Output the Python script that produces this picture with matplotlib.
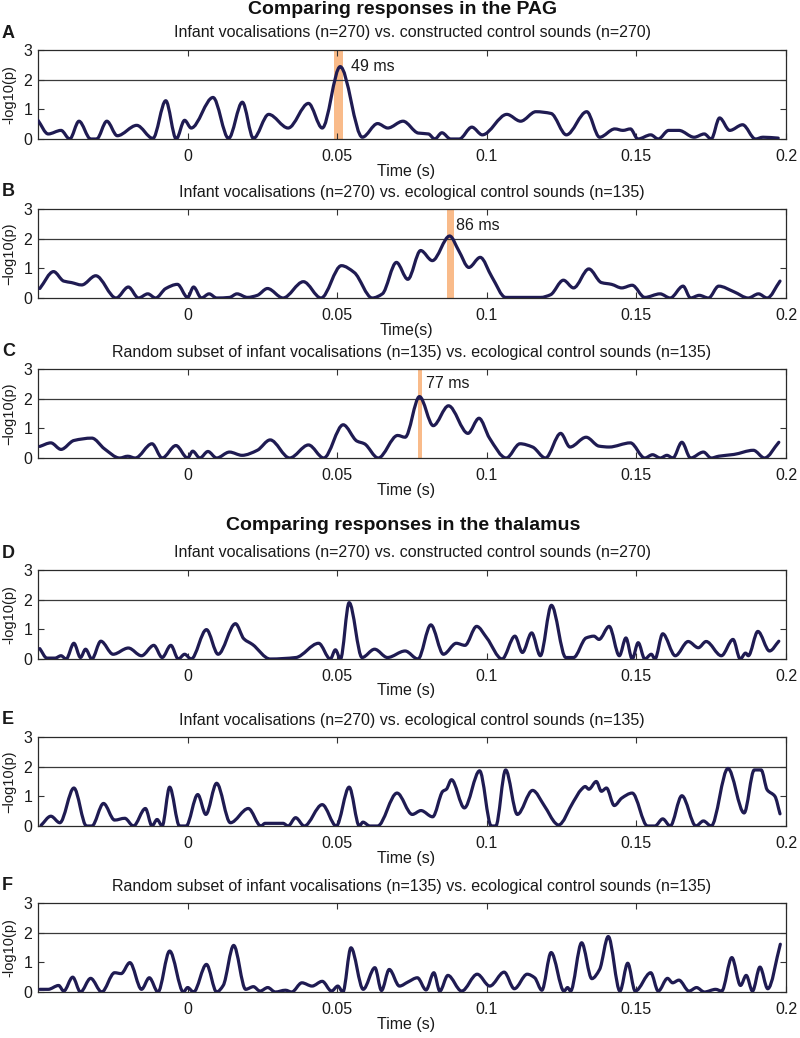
import matplotlib
matplotlib.use("Agg")
import matplotlib.pyplot as plt
from matplotlib.path import Path
from matplotlib.patches import PathPatch

plt.rcParams['font.family'] = ['Liberation Sans', 'DejaVu Sans']

# ---------------- data ----------------
xticks = [0, 0.05, 0.1, 0.15, 0.2]
xticklabels = ['0', '0.05', '0.1', '0.15', '0.2']
yticks = [0, 1, 2, 3]
threshold = 2

titles = ['Comparing responses in the PAG', 'Comparing responses in the thalamus']
letters = ['A', 'B', 'C', 'D', 'E', 'F']
subtitles = [
    'Infant vocalisations (n=270) vs. constructed control sounds (n=270)',
    'Infant vocalisations (n=270) vs. ecological control sounds (n=135)',
    'Random subset of infant vocalisations (n=135) vs. ecological control sounds (n=135)',
    'Infant vocalisations (n=270) vs. constructed control sounds (n=270)',
    'Infant vocalisations (n=270) vs. ecological control sounds (n=135)',
    'Random subset of infant vocalisations (n=135) vs. ecological control sounds (n=135)',
]
xlabels = ['Time (s)', 'Time(s)', 'Time (s)', 'Time (s)', 'Time (s)', 'Time (s)']
ylabels = ['-log10(p)', '\u2212log10(p)', '\u2212log10(p)', '-log10(p)', '\u2212log10(p)', '-log10(p)']

tA = [-0.0500, -0.0466, -0.0423, -0.0394, -0.0363, -0.0324, -0.0304, -0.0270, -0.0235, -0.0170,
      -0.0116, -0.0073, -0.0038, -0.0010, 0.0012, 0.0085, 0.0137, 0.0183, 0.0220, 0.0271,
      0.0336, 0.0404, 0.0450, 0.0510, 0.0584, 0.0635, 0.0669, 0.0720, 0.0771, 0.0805,
      0.0826, 0.0850, 0.0879, 0.0908, 0.0950, 0.0985, 0.1067, 0.1113, 0.1164, 0.1215,
      0.1266, 0.1334, 0.1377, 0.1428, 0.1455, 0.1480, 0.1505, 0.1548, 0.1573, 0.1608,
      0.1642, 0.1693, 0.1727, 0.1750, 0.1778, 0.1812, 0.1855, 0.1898, 0.1923, 0.1974]
pA = [0.63, 0.17, 0.29, 0.00, 0.60, 0.00, 0.00, 0.60, 0.11, 0.46,
      0.02, 1.29, 0.00, 0.63, 0.37, 1.40, 0.02, 1.24, 0.02, 0.83,
      0.37, 1.20, 0.37, 2.44, 0.06, 0.52, 0.37, 0.60, 0.20, 0.17,
      0.00, 0.21, 0.00, 0.00, 0.40, 0.14, 0.83, 0.60, 0.92, 0.86,
      0.14, 0.92, 0.06, 0.34, 0.29, 0.34, 0.00, 0.14, 0.00, 0.29,
      0.29, 0.06, 0.17, 0.00, 0.71, 0.29, 0.48, 0.00, 0.06, 0.03]

tB = [-0.0494, -0.0448, -0.0414, -0.0388, -0.0354, -0.0307, -0.0239, -0.0198, -0.0164, -0.0133,
      -0.0107, -0.0073, -0.0034, 0.0000, 0.0020, 0.0046, 0.0072, 0.0097, 0.0140, 0.0165,
      0.0200, 0.0233, 0.0267, 0.0319, 0.0387, 0.0446, 0.0514, 0.0557, 0.0617, 0.0651,
      0.0698, 0.0736, 0.0779, 0.0818, 0.0876, 0.0906, 0.0940, 0.0978, 0.1017, 0.1063,
      0.1110, 0.1180, 0.1213, 0.1256, 0.1290, 0.1341, 0.1383, 0.1417, 0.1451, 0.1486,
      0.1528, 0.1579, 0.1613, 0.1656, 0.1681, 0.1710, 0.1741, 0.1775, 0.1826, 0.1874,
      0.1908, 0.1937, 0.1980]
pB = [0.32, 0.89, 0.57, 0.52, 0.44, 0.75, 0.00, 0.37, 0.00, 0.14,
      0.00, 0.32, 0.46, 0.02, 0.37, 0.00, 0.14, 0.00, 0.02, 0.14,
      0.02, 0.09, 0.32, 0.00, 0.55, 0.00, 1.09, 0.86, 0.00, 0.14,
      1.20, 0.63, 1.60, 1.26, 2.09, 1.60, 1.03, 1.37, 0.71, 0.02,
      0.02, 0.02, 0.11, 0.60, 0.34, 0.98, 0.52, 0.46, 0.34, 0.43,
      0.02, 0.14, 0.00, 0.40, 0.00, 0.09, 0.00, 0.40, 0.21, 0.00,
      0.14, 0.00, 0.57]

tC = [-0.0494, -0.0457, -0.0423, -0.0380, -0.0320, -0.0278, -0.0227, -0.0200, -0.0175, -0.0119,
      -0.0085, -0.0039, 0.0000, 0.0017, 0.0041, 0.0068, 0.0097, 0.0140, 0.0182, 0.0233,
      0.0276, 0.0341, 0.0404, 0.0455, 0.0520, 0.0566, 0.0591, 0.0637, 0.0702, 0.0727,
      0.0775, 0.0821, 0.0872, 0.0937, 0.0974, 0.1009, 0.1065, 0.1111, 0.1153, 0.1196,
      0.1247, 0.1278, 0.1332, 0.1375, 0.1409, 0.1480, 0.1528, 0.1554, 0.1580, 0.1602,
      0.1622, 0.1652, 0.1681, 0.1724, 0.1750, 0.1775, 0.1826, 0.1891, 0.1928, 0.1976]
pC = [0.39, 0.51, 0.29, 0.59, 0.67, 0.31, 0.00, 0.06, 0.00, 0.48,
      0.00, 0.42, 0.00, 0.23, 0.00, 0.22, 0.00, 0.20, 0.09, 0.26,
      0.61, 0.00, 0.44, 0.00, 1.12, 0.57, 0.48, 0.00, 0.76, 0.70,
      2.07, 1.09, 1.76, 0.83, 1.34, 0.67, 0.00, 0.48, 0.37, 0.00,
      0.83, 0.37, 0.70, 0.40, 0.37, 0.51, 0.00, 0.11, 0.00, 0.09,
      0.00, 0.53, 0.00, 0.20, 0.00, 0.06, 0.12, 0.26, 0.00, 0.53]

tD = [-0.0494, -0.0470, -0.0443, -0.0423, -0.0406, -0.0380, -0.0358, -0.0341, -0.0320, -0.0290,
      -0.0249, -0.0198, -0.0154, -0.0113, -0.0085, -0.0056, -0.0031, -0.0010, 0.0012, 0.0063,
      0.0102, 0.0160, 0.0188, 0.0217, 0.0276, 0.0362, 0.0438, 0.0477, 0.0494, 0.0511,
      0.0540, 0.0583, 0.0625, 0.0668, 0.0727, 0.0770, 0.0813, 0.0855, 0.0898, 0.0927,
      0.0966, 0.1000, 0.1051, 0.1094, 0.1119, 0.1150, 0.1179, 0.1216, 0.1264, 0.1290,
      0.1332, 0.1358, 0.1375, 0.1409, 0.1443, 0.1465, 0.1486, 0.1506, 0.1528, 0.1550,
      0.1562, 0.1588, 0.1630, 0.1673, 0.1707, 0.1733, 0.1784, 0.1823, 0.1847, 0.1865,
      0.1874, 0.1906, 0.1945, 0.1976]
pD = [0.35, 0.03, 0.03, 0.11, 0.00, 0.53, 0.05, 0.33, 0.00, 0.60,
      0.16, 0.37, 0.11, 0.46, 0.05, 0.46, 0.00, 0.16, 0.00, 0.99,
      0.16, 1.19, 0.68, 0.49, 0.00, 0.05, 0.53, 0.00, 0.31, 0.00,
      1.90, 0.05, 0.33, 0.05, 0.27, 0.00, 1.15, 0.16, 0.53, 0.46,
      1.10, 0.71, 0.00, 0.77, 0.22, 0.88, 0.11, 1.81, 0.05, 0.05,
      0.71, 0.77, 0.66, 1.10, 0.11, 0.71, 0.00, 0.55, 0.00, 0.16,
      0.00, 0.85, 0.11, 0.59, 0.38, 0.59, 0.11, 0.66, 0.00, 0.20,
      0.11, 0.93, 0.27, 0.60]

tE = [-0.0490, -0.0457, -0.0427, -0.0380, -0.0338, -0.0320, -0.0281, -0.0244, -0.0210, -0.0181,
      -0.0141, -0.0119, -0.0102, -0.0085, -0.0060, -0.0027, -0.0005, 0.0034, 0.0061, 0.0097,
      0.0143, 0.0203, 0.0245, 0.0259, 0.0319, 0.0336, 0.0361, 0.0390, 0.0450, 0.0497,
      0.0540, 0.0574, 0.0586, 0.0609, 0.0635, 0.0700, 0.0751, 0.0780, 0.0819, 0.0853,
      0.0865, 0.0882, 0.0925, 0.0976, 0.1015, 0.1030, 0.1063, 0.1102, 0.1153, 0.1193,
      0.1230, 0.1239, 0.1290, 0.1315, 0.1329, 0.1341, 0.1366, 0.1383, 0.1400, 0.1426,
      0.1451, 0.1486, 0.1537, 0.1562, 0.1588, 0.1613, 0.1652, 0.1699, 0.1724, 0.1750,
      0.1806, 0.1860, 0.1894, 0.1917, 0.1937, 0.1963, 0.1980]
pE = [0.02, 0.33, 0.11, 1.28, 0.00, 0.00, 0.76, 0.20, 0.26, 0.00,
      0.59, 0.00, 0.22, 0.00, 1.31, 0.00, 0.00, 1.06, 0.39, 1.44,
      0.11, 0.59, 0.00, 0.09, 0.09, 0.00, 0.28, 0.00, 0.72, 0.00,
      1.31, 0.00, 0.13, 0.00, 0.00, 1.11, 0.39, 0.52, 0.31, 1.17,
      1.24, 1.56, 0.61, 1.86, 0.00, 0.00, 1.89, 0.39, 1.20, 0.67,
      0.09, 0.03, 0.83, 1.22, 1.33, 1.24, 1.50, 1.17, 1.28, 0.69,
      0.94, 1.11, 0.00, 0.00, 0.24, 0.00, 1.02, 0.00, 0.17, 0.00,
      1.94, 0.44, 1.89, 1.89, 1.22, 1.00, 0.41]

tF = [-0.0494, -0.0466, -0.0431, -0.0414, -0.0384, -0.0358, -0.0324, -0.0287, -0.0244, -0.0222,
      -0.0193, -0.0154, -0.0128, -0.0099, -0.0060, -0.0014, 0.0000, 0.0020, 0.0063, 0.0097,
      0.0119, 0.0154, 0.0194, 0.0220, 0.0242, 0.0268, 0.0293, 0.0327, 0.0348, 0.0382,
      0.0416, 0.0450, 0.0481, 0.0502, 0.0519, 0.0546, 0.0587, 0.0626, 0.0648, 0.0674,
      0.0708, 0.0737, 0.0768, 0.0797, 0.0823, 0.0843, 0.0870, 0.0916, 0.0968, 0.1010,
      0.1058, 0.1092, 0.1135, 0.1160, 0.1184, 0.1215, 0.1258, 0.1270, 0.1280, 0.1317,
      0.1351, 0.1377, 0.1406, 0.1445, 0.1471, 0.1496, 0.1548, 0.1573, 0.1604, 0.1621,
      0.1642, 0.1676, 0.1701, 0.1727, 0.1765, 0.1785, 0.1819, 0.1848, 0.1867, 0.1888,
      0.1913, 0.1939, 0.1981]
pF = [0.09, 0.09, 0.22, 0.03, 0.50, 0.00, 0.46, 0.00, 0.65, 0.62,
      0.99, 0.09, 0.48, 0.00, 1.38, 0.00, 0.15, 0.00, 0.93, 0.00,
      0.22, 1.57, 0.09, 0.18, 0.03, 0.15, 0.00, 0.06, 0.00, 0.31,
      0.20, 0.36, 0.03, 0.20, 0.00, 1.49, 0.09, 0.82, 0.05, 0.76,
      0.20, 0.34, 0.48, 0.07, 0.65, 0.03, 0.56, 0.03, 0.60, 0.20,
      0.67, 0.11, 0.60, 0.48, 0.06, 1.33, 0.03, 0.15, 0.03, 1.66,
      0.45, 0.76, 1.87, 0.03, 0.97, 0.03, 0.65, 0.03, 0.46, 0.31,
      0.40, 0.03, 0.15, 0.00, 0.09, 0.03, 1.16, 0.22, 0.56, 0.03,
      0.84, 0.11, 1.61]

times = [tA, tB, tC, tD, tE, tF]
values = [pA, pB, pC, pD, pE, pF]

# significant windows (start, end in s) and their labels for panels A-C
sig_start = [0.0490, 0.0866, 0.0771]
sig_end = [0.0519, 0.0889, 0.0785]
sig_labels = ['49 ms', '86 ms', '77 ms']
sig_label_x = [0.0546, 0.0898, 0.0797]
sig_label_y = [2.45, 2.44, 2.50]


# ---------------- drawing helpers ----------------
def smooth_trace(x, y):
    """Path through every read point, drawn as a smooth (shape-preserving)
    cubic curve instead of straight segments; no extra data is created."""
    n = len(x)
    d = [(y[k + 1] - y[k]) / (x[k + 1] - x[k]) for k in range(n - 1)]
    m = [0.0] * n
    m[0], m[-1] = d[0], d[-1]
    for k in range(1, n - 1):
        if d[k - 1] * d[k] <= 0:
            m[k] = 0.0
        else:
            h0, h1 = x[k] - x[k - 1], x[k + 1] - x[k]
            w1, w2 = 2 * h1 + h0, h1 + 2 * h0
            m[k] = (w1 + w2) / (w1 / d[k - 1] + w2 / d[k])
    verts = [(x[0], y[0])]
    codes = [Path.MOVETO]
    for k in range(n - 1):
        h = x[k + 1] - x[k]
        verts += [(x[k] + h / 3, y[k] + m[k] * h / 3),
                  (x[k + 1] - h / 3, y[k + 1] - m[k + 1] * h / 3),
                  (x[k + 1], y[k + 1])]
        codes += [Path.CURVE4] * 3
    return Path(verts, codes)


# ---------------- layout (pixels) ----------------
W, H = 800, 1038
fig = plt.figure(figsize=(W / 100, H / 100), dpi=100)


def fx(x):
    return x / W


def fy(y):
    return 1 - y / H


AX_L, AX_R, AX_H = 38, 786, 89
tops = [50, 209, 369, 570, 737, 903]
title_y = [9, 525]

LINE_COLOR = '#1f1b52'
BAR_COLOR = '#f9bb8a'
TXT = '#1a1a1a'

for i in range(6):
    top = tops[i]
    ax = fig.add_axes([fx(AX_L), fy(top + AX_H), fx(AX_R - AX_L), AX_H / H])
    ax.set_xlim(-0.05, 0.2)
    ax.set_ylim(0, 3)
    ax.set_xticks(xticks)
    ax.set_xticklabels(xticklabels)
    ax.set_yticks(yticks)
    ax.tick_params(direction='in', top=True, right=True, length=4, width=0.8,
                   labelsize=11.5, colors='#333333', labelcolor=TXT)
    ax.tick_params(axis='x', pad=7)
    ax.tick_params(axis='y', pad=4)
    for s in ax.spines.values():
        s.set_linewidth(0.9)
        s.set_color('#2a2a2a')
    ax.axhline(threshold, color='#3a3a3a', lw=0.9, zorder=1)
    if i < 3:
        ax.axvspan(sig_start[i], sig_end[i], color=BAR_COLOR, lw=0, zorder=0.5)
        ax.text(sig_label_x[i], sig_label_y[i], sig_labels[i], fontsize=11.5,
                ha='left', va='center', color=TXT)
    ax.add_patch(PathPatch(smooth_trace(times[i], values[i]), fill=False,
                           edgecolor=LINE_COLOR, lw=2.3, joinstyle='round',
                           capstyle='round', zorder=3))

    fig.text(fx(412), fy(top - 17), subtitles[i], ha='center', va='center',
             fontsize=11.5, color=TXT)
    fig.text(fx(2), fy(top - 17), letters[i], ha='left', va='center',
             fontsize=13, fontweight='bold', color=TXT)
    fig.text(fx(9), fy(top + AX_H / 2), ylabels[i], rotation=90, ha='center',
             va='center', fontsize=10.5, color=TXT)
    fig.text(fx(406), fy(top + AX_H + 32), xlabels[i], ha='center', va='center',
             fontsize=11.5, color=TXT)

for t, y in zip(titles, title_y):
    fig.text(fx(403), fy(y), t, ha='center', va='center', fontsize=14,
             fontweight='bold', color='#111111')

fig.savefig('out.png', dpi=100)
